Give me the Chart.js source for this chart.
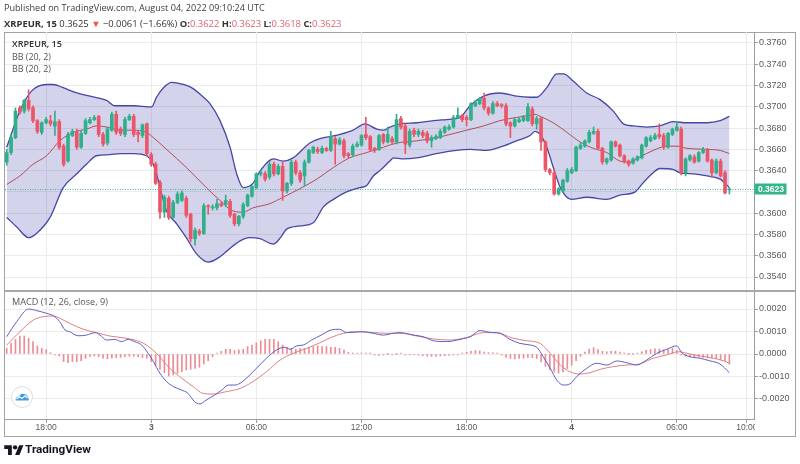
<!DOCTYPE html>
<html><head><meta charset="utf-8">
<script src="https://cdn.jsdelivr.net/npm/chart.js@4.4.0/dist/chart.umd.min.js"></script>
<style>
html,body{margin:0;padding:0;background:#fff;width:800px;height:464px;overflow:hidden;}
#wrap{position:relative;width:800px;height:464px;font-family:"Open Sans","Noto Sans",sans-serif;}
canvas{position:absolute;left:0;top:0;}
.t{position:absolute;white-space:nowrap;line-height:1.2;transform:translateY(-50%);z-index:5;}
.v{color:#e0626f;}
b{font-weight:700;}
#frame{position:absolute;left:4px;top:32px;width:792px;height:405px;box-sizing:border-box;border:1px solid #a3a3a3;}
#sep{position:absolute;left:4px;top:290px;width:792px;height:2px;background:#a8a8a8;z-index:4;}
</style></head><body>
<div id="wrap">
  <div id="frame"></div>
  <canvas id="cp" width="800" height="464"></canvas>
  <canvas id="cm" width="800" height="464"></canvas>
  <div id="sep"></div>
  <div class="t" data-w="261" style="left:4px;top:8px;font-size:11px;color:#3c3c3c">Published on TradingView.com, August 04, 2022 09:10:24 UTC</div>
  <div class="t" data-w="338" style="left:4px;top:24px;font-size:11px;color:#333"><b>XRPEUR, 15</b> 0.3625 <span style="color:#ef5350">▼</span> −0.0061 (−1.66%) <b>O:</b><span class="v">0.3622</span> <b>H:</b><span class="v">0.3623</span> <b>L:</b><span class="v">0.3618</span> <b>C:</b><span class="v">0.3623</span></div>
  <div class="t" data-w="50" style="left:12px;top:44px;font-size:10px;color:#333;font-weight:600">XRPEUR, 15</div>
  <div class="t" data-w="39" style="left:12px;top:57px;font-size:10px;color:#555">BB (20, 2)</div>
  <div class="t" data-w="39" style="left:12px;top:69px;font-size:10px;color:#555">BB (20, 2)</div>
  <div class="t" data-w="96" style="left:12px;top:302px;font-size:10px;color:#555">MACD (12, 26, close, 9)</div>
  <svg style="position:absolute;left:10px;top:385px;z-index:5" width="24" height="24" viewBox="0 0 24 24">
    <circle cx="12" cy="12" r="10.5" fill="#fff" stroke="#dcdcdc" stroke-width="1"/>
    <path d="M5.5 15.5 Q5.5 11.5 9 11.5 Q10.5 8 14 9 Q17.5 9.5 18 12.5 Q19.5 13.5 18.5 15.5 Z" fill="#3d9be0"/>
    <polyline points="6.5,14 9.5,11.8 12,13.6 15,10.8 17.5,13" fill="none" stroke="#fff" stroke-width="1.2"/>
  </svg>
  <svg style="position:absolute;left:4px;top:443px;z-index:5" width="20" height="13" viewBox="0 0 36 24">
    <g fill="#131722"><path d="M14 22H7V11H0V4h14v18zM28 22h-8l7.5-18h8L28 22z"/><circle cx="20" cy="8" r="4"/></g>
  </svg>
  <div class="t" data-w="66" style="left:25px;top:449px;font-size:13px;color:#131722;font-weight:700;font-family:Roboto,'Open Sans',sans-serif">TradingView</div>
</div>
<script>
// ---------- data ----------
const opens = [0.3648,0.3657,0.3671,0.3699,0.3696,0.3706,0.3699,0.3687,0.3676,0.3685,0.3687,0.3682,0.3686,0.3663,0.3649,0.3673,0.3677,0.3662,0.3675,0.3685,
0.3688,0.3691,0.3674,0.3666,0.3678,0.3693,0.3679,0.3674,0.3688,0.3691,0.3676,0.3673,0.3684,0.3655,0.3646,0.3629,0.3601,0.3614,0.3596,0.3610,
0.3612,0.3614,0.3599,0.3576,0.3583,0.3581,0.3607,0.3605,0.3605,0.3609,0.3608,0.3611,0.3599,0.3590,0.3597,0.3607,0.3616,0.3624,0.3637,0.3637,
0.3634,0.3646,0.3637,0.3644,0.3621,0.3628,0.3648,0.3638,0.3635,0.3648,0.3657,0.3660,0.3657,0.3661,0.3659,0.3670,0.3665,0.3668,0.3656,0.3655,
0.3663,0.3664,0.3674,0.3672,0.3661,0.3660,0.3674,0.3667,0.3670,0.3667,0.3689,0.3682,0.3664,0.3678,0.3674,0.3676,0.3675,0.3668,0.3670,0.3671,
0.3676,0.3679,0.3681,0.3690,0.3692,0.3690,0.3688,0.3701,0.3703,0.3708,0.3699,0.3694,0.3703,0.3702,0.3701,0.3685,0.3682,0.3686,0.3687,0.3687,
0.3698,0.3684,0.3689,0.3667,0.3641,0.3638,0.3618,0.3621,0.3630,0.3638,0.3640,0.3661,0.3663,0.3667,0.3675,0.3677,0.3661,0.3648,0.3650,0.3667,
0.3664,0.3654,0.3649,0.3647,0.3650,0.3652,0.3663,0.3668,0.3670,0.3674,0.3673,0.3662,0.3674,0.3678,0.3679,0.3638,0.3650,0.3653,0.3649,0.3657,
0.3659,0.3650,0.3638,0.3649,0.3638,0.3622];
const highs = [0.3660,0.3674,0.3699,0.3701,0.3707,0.3716,0.3701,0.3688,0.3686,0.3690,0.3692,0.3696,0.3688,0.3665,0.3676,0.3679,0.3679,0.3677,0.3689,0.3690,
0.3692,0.3692,0.3676,0.3681,0.3695,0.3696,0.3681,0.3690,0.3693,0.3693,0.3677,0.3684,0.3685,0.3657,0.3648,0.3631,0.3617,0.3616,0.3612,0.3620,
0.3621,0.3616,0.3600,0.3586,0.3585,0.3609,0.3608,0.3608,0.3613,0.3611,0.3617,0.3613,0.3600,0.3598,0.3610,0.3618,0.3626,0.3638,0.3640,0.3639,
0.3648,0.3648,0.3646,0.3648,0.3629,0.3650,0.3650,0.3640,0.3650,0.3660,0.3663,0.3662,0.3663,0.3662,0.3677,0.3672,0.3671,0.3670,0.3657,0.3665,
0.3667,0.3674,0.3690,0.3673,0.3662,0.3674,0.3675,0.3681,0.3672,0.3693,0.3691,0.3684,0.3679,0.3680,0.3679,0.3678,0.3677,0.3673,0.3674,0.3679,
0.3682,0.3683,0.3692,0.3699,0.3693,0.3692,0.3704,0.3706,0.3709,0.3713,0.3700,0.3705,0.3705,0.3703,0.3703,0.3686,0.3690,0.3690,0.3692,0.3703,
0.3700,0.3691,0.3690,0.3668,0.3642,0.3640,0.3624,0.3632,0.3642,0.3643,0.3663,0.3666,0.3669,0.3678,0.3681,0.3679,0.3662,0.3652,0.3668,0.3668,
0.3665,0.3655,0.3650,0.3652,0.3654,0.3665,0.3672,0.3673,0.3675,0.3684,0.3675,0.3676,0.3680,0.3686,0.3681,0.3652,0.3655,0.3655,0.3658,0.3662,
0.3661,0.3651,0.3651,0.3651,0.3640,0.3623];
const lows = [0.3645,0.3655,0.3670,0.3693,0.3694,0.3696,0.3685,0.3675,0.3674,0.3684,0.3682,0.3673,0.3660,0.3644,0.3648,0.3672,0.3660,0.3661,0.3674,0.3684,
0.3687,0.3672,0.3663,0.3664,0.3677,0.3674,0.3673,0.3672,0.3687,0.3672,0.3667,0.3671,0.3654,0.3644,0.3627,0.3595,0.3596,0.3594,0.3595,0.3609,
0.3611,0.3596,0.3573,0.3570,0.3579,0.3580,0.3599,0.3603,0.3603,0.3606,0.3606,0.3596,0.3588,0.3588,0.3595,0.3606,0.3615,0.3623,0.3635,0.3630,
0.3632,0.3635,0.3636,0.3612,0.3619,0.3626,0.3636,0.3629,0.3626,0.3647,0.3656,0.3656,0.3656,0.3658,0.3658,0.3646,0.3664,0.3652,0.3652,0.3653,
0.3662,0.3663,0.3669,0.3658,0.3657,0.3659,0.3665,0.3666,0.3665,0.3665,0.3679,0.3656,0.3662,0.3672,0.3672,0.3671,0.3666,0.3662,0.3669,0.3670,
0.3675,0.3678,0.3680,0.3689,0.3686,0.3682,0.3687,0.3700,0.3702,0.3697,0.3692,0.3693,0.3700,0.3699,0.3682,0.3671,0.3681,0.3685,0.3686,0.3686,
0.3682,0.3679,0.3659,0.3639,0.3636,0.3617,0.3617,0.3620,0.3629,0.3637,0.3639,0.3660,0.3662,0.3666,0.3674,0.3660,0.3646,0.3646,0.3649,0.3662,
0.3653,0.3647,0.3644,0.3646,0.3649,0.3651,0.3662,0.3667,0.3669,0.3670,0.3660,0.3661,0.3673,0.3677,0.3636,0.3635,0.3649,0.3647,0.3648,0.3656,
0.3648,0.3634,0.3637,0.3634,0.3618,0.3618];
const closes = [0.3657,0.3671,0.3696,0.3695,0.3706,0.3698,0.3687,0.3677,0.3685,0.3688,0.3684,0.3686,0.3662,0.3646,0.3674,0.3677,0.3662,0.3675,0.3687,0.3688,
0.3690,0.3674,0.3665,0.3679,0.3693,0.3676,0.3675,0.3688,0.3691,0.3674,0.3674,0.3683,0.3656,0.3646,0.3628,0.3601,0.3615,0.3596,0.3610,0.3618,
0.3619,0.3598,0.3576,0.3584,0.3581,0.3607,0.3606,0.3606,0.3609,0.3607,0.3612,0.3598,0.3590,0.3597,0.3608,0.3617,0.3625,0.3637,0.3638,0.3632,
0.3646,0.3637,0.3644,0.3621,0.3628,0.3648,0.3638,0.3631,0.3648,0.3659,0.3662,0.3658,0.3661,0.3659,0.3672,0.3665,0.3669,0.3654,0.3654,0.3663,
0.3665,0.3673,0.3671,0.3660,0.3659,0.3673,0.3667,0.3674,0.3667,0.3688,0.3681,0.3665,0.3677,0.3674,0.3677,0.3673,0.3668,0.3671,0.3672,0.3677,
0.3681,0.3681,0.3690,0.3692,0.3688,0.3688,0.3703,0.3704,0.3708,0.3699,0.3694,0.3703,0.3701,0.3701,0.3684,0.3682,0.3688,0.3688,0.3690,0.3700,
0.3684,0.3689,0.3667,0.3641,0.3638,0.3618,0.3623,0.3631,0.3640,0.3641,0.3662,0.3664,0.3668,0.3676,0.3677,0.3661,0.3648,0.3651,0.3667,0.3663,
0.3654,0.3649,0.3646,0.3651,0.3653,0.3664,0.3671,0.3671,0.3673,0.3672,0.3662,0.3675,0.3679,0.3681,0.3638,0.3651,0.3654,0.3648,0.3657,0.3660,
0.3649,0.3638,0.3649,0.3635,0.3619,0.3623];

// Bollinger bands, read as [bar index, price]
const bbUpper = [[0,0.3662],[3,0.3696],[5.7,0.3715],[9.1,0.3721],[10.6,0.3721],[12.9,0.3718],[16,0.3713],[19,0.3710],[22.8,0.3706],[24.7,0.3701],[28.9,0.3701],[33.1,0.3700],[34.2,0.3709],[35.8,0.3718],[37.7,0.3723],[40.3,0.3721],[42.2,0.3718],[44.1,0.3712],[46.4,0.3703],[48.7,0.3687],[51,0.3662],[52.5,0.3637],[54,0.3624],[56.2,0.3628],[57.9,0.3640],[60.9,0.3651],[63.1,0.3649],[65.4,0.3652],[69.2,0.3666],[71.5,0.3670],[73.8,0.3672],[76.1,0.3674],[79.1,0.3678],[81.8,0.3684],[84.5,0.3679],[86,0.3678],[87.5,0.3681],[89.8,0.3684],[93.6,0.3685],[97.4,0.3687],[100.4,0.3688],[103.5,0.3690],[105.8,0.3701],[108.9,0.3710],[112.6,0.3713],[116.4,0.3710],[119.5,0.3709],[121,0.3709],[123.3,0.3718],[125.6,0.3731],[127.1,0.3731],[129.4,0.3724],[132.4,0.3713],[135.4,0.3707],[138.5,0.3696],[140.8,0.3684],[143.1,0.3682],[146.1,0.3681],[149.1,0.3682],[152.2,0.3686],[155.3,0.3685],[159.9,0.3685],[162.9,0.3687],[165,0.3691]];
const bbLower = [[0,0.3596],[2.3,0.3587],[5,0.3577],[6.8,0.3581],[9.9,0.3596],[12.9,0.3624],[16,0.3637],[18.2,0.3646],[20.5,0.3654],[23.5,0.3655],[25.8,0.3656],[28.9,0.3656],[31.9,0.3654],[33.1,0.3649],[34.2,0.3637],[35,0.3624],[36.5,0.3602],[38.8,0.3590],[41,0.3577],[43.3,0.3562],[46,0.3554],[48.7,0.3559],[51,0.3567],[53.3,0.3574],[55.5,0.3577],[57.8,0.3576],[60.9,0.3571],[62.5,0.3577],[63.9,0.3585],[66.9,0.3588],[70,0.3591],[72.3,0.3606],[74.6,0.3613],[77.6,0.3620],[80.6,0.3624],[82.2,0.3626],[83.7,0.3635],[85.2,0.3640],[87.5,0.3649],[88.3,0.3652],[90.6,0.3651],[93.6,0.3652],[98.1,0.3656],[102.7,0.3659],[105.8,0.3660],[109.6,0.3659],[113.3,0.3663],[116.4,0.3668],[119.5,0.3673],[120.6,0.3677],[121.8,0.3674],[123.3,0.3662],[124.8,0.3643],[126.4,0.3624],[128.9,0.3613],[132.4,0.3615],[137,0.3613],[140,0.3617],[143.5,0.3620],[145.4,0.3629],[147.6,0.3638],[149.1,0.3642],[152.2,0.3641],[153.7,0.3638],[156.8,0.3637],[159.9,0.3635],[162.9,0.3632],[165,0.3624]];
const bbBasis = [[0,0.3627],[3,0.3635],[6,0.3646],[9.1,0.3654],[12.1,0.3668],[15.2,0.3676],[18.2,0.3679],[20.5,0.3682],[22.8,0.3681],[25.8,0.3678],[28.9,0.3678],[31.9,0.3676],[33.5,0.3671],[36.5,0.3660],[41,0.3643],[45.6,0.3624],[48.7,0.3612],[51.7,0.3602],[54,0.3601],[56.2,0.3605],[60.1,0.3609],[63.1,0.3615],[66.9,0.3623],[70.8,0.3632],[74.6,0.3643],[78.3,0.3652],[82.2,0.3657],[86,0.3662],[89.1,0.3666],[93.6,0.3668],[98.1,0.3671],[101.2,0.3674],[105,0.3678],[108.9,0.3682],[112.6,0.3687],[116.4,0.3690],[119.5,0.3692],[120.6,0.3693],[121.8,0.3691],[124.8,0.3685],[127.9,0.3676],[130.9,0.3667],[133.9,0.3661],[137,0.3657],[140,0.3649],[142.3,0.3648],[144.6,0.3653],[147.6,0.3659],[150.7,0.3663],[153,0.3663],[155.3,0.3661],[159.9,0.3660],[162.9,0.3659],[165,0.3656]];

// MACD (12, 26, close, 9), read as [bar index, value]
const macdLine = [[0,0.00077],[2.3,0.00144],[5,0.002],[6.8,0.00193],[9.1,0.00181],[11,0.00166],[12.1,0.00144],[13.3,0.00107],[14.4,0.00099],[16.3,0.00081],[18.2,0.00084],[20.2,0.00095],[21.3,0.00084],[22.8,0.00062],[24.7,0.00065],[26.2,0.00055],[27.7,0.00065],[29.2,0.00055],[30.8,0.0004],[32.3,0.00003],[33.5,-0.00034],[35,-0.00086],[36.5,-0.00123],[38.1,-0.00145],[39.9,-0.0016],[41.4,-0.00175],[42.9,-0.00212],[44.1,-0.00222],[45.6,-0.00204],[47.5,-0.00182],[49.1,-0.0016],[50.6,-0.00138],[52.1,-0.00138],[53.3,-0.0013],[55.1,-0.00101],[57,-0.00064],[59.3,-0.00019],[61.6,0.00018],[63.5,0.0003],[64.7,0.00021],[66.2,0.00036],[67.7,0.0004],[69.6,0.00062],[71.8,0.00084],[74.1,0.00107],[76,0.0011],[77.6,0.00095],[81,0.00099],[83.7,0.00092],[86,0.00084],[88.2,0.00092],[89.8,0.00095],[92.9,0.00084],[95.1,0.00077],[97.4,0.00059],[100.4,0.00055],[103.5,0.00065],[105.8,0.00077],[108.1,0.00104],[110.4,0.00096],[112.6,0.00092],[114.9,0.00065],[117.2,0.00047],[119.5,0.0004],[121,0.0003],[122.5,-0.00012],[124.1,-0.00064],[125.6,-0.00116],[127.1,-0.00138],[128.6,-0.00133],[130.1,-0.00101],[132.4,-0.00064],[134.7,-0.00041],[137,-0.00049],[139.3,-0.00031],[141.6,-0.00039],[143.8,-0.00049],[146.1,-0.00027],[148.4,0.00003],[150.7,0.00021],[153,0.00036],[154.1,0.00006],[156,-0.00012],[158.3,-0.00019],[160.5,-0.0003],[162.8,-0.00044],[165,-0.00083]];
const signalLine = [[0,0.0004],[3,0.00099],[6.1,0.00151],[8.3,0.00166],[10.6,0.00169],[12.1,0.00159],[14.4,0.00136],[17.5,0.0011],[20.5,0.00095],[23.5,0.0008],[27.3,0.0007],[30.4,0.00055],[31.9,0.0004],[34.2,0.00003],[36.5,-0.00049],[39.5,-0.00101],[42.6,-0.00145],[44.8,-0.00175],[47.1,-0.00178],[50.2,-0.00167],[53.3,-0.00153],[56.2,-0.00123],[59.3,-0.00079],[62.4,-0.00027],[65.4,0.00003],[68.5,0.00025],[71.5,0.0005],[74.5,0.00077],[77.6,0.00095],[80.6,0.00099],[83.7,0.00095],[86.8,0.00092],[89.8,0.00092],[94.4,0.00077],[97.4,0.00067],[101.2,0.00062],[105,0.00073],[108.9,0.00095],[111.8,0.00095],[115.6,0.0007],[118.7,0.00059],[121.8,0.00047],[124.1,0.00003],[126.4,-0.00049],[128.6,-0.00079],[130.9,-0.00089],[133.2,-0.00083],[135.5,-0.00068],[138.5,-0.00056],[141.6,-0.00049],[144.5,-0.00044],[147.6,-0.00019],[150.7,-0.00004],[153.4,0.0001],[156,0],[158.3,-0.00009],[161.4,-0.00019],[163.6,-0.0003],[165,-0.00041]];
const histogram = [0.00025,0.00047,0.00065,0.0008,0.0008,0.0007,0.00055,0.00036,0.00025,0.00018,
0.00006,-0.00001,-0.00009,-0.00034,-0.00039,-0.00034,-0.00034,-0.0003,-0.00019,-0.00012,
-0.00009,-0.00012,-0.00019,-0.00021,-0.00018,-0.00016,-0.00015,-0.00012,-0.0001,-0.0001,
-0.00012,-0.00016,-0.00019,-0.00034,-0.00049,-0.00068,-0.00083,-0.00098,-0.00093,-0.00086,
-0.00079,-0.00071,-0.00068,-0.00064,-0.00059,-0.00044,-0.0003,-0.00012,0.00003,0.00012,
0.00021,0.00021,0.00015,0.00018,0.00021,0.00033,0.0004,0.0005,0.00059,0.00065,
0.00065,0.00065,0.00055,0.0004,0.0003,0.00025,0.00022,0.00025,0.00025,0.0003,
0.00033,0.00036,0.00033,0.00033,0.0003,0.0003,0.00025,0.00018,0.00007,0.00003,
0.00003,0.00003,0.00003,0.00003,-0.00001,-0.00006,-0.00001,0,-0.00003,0,
0.00003,
-0.00001,-0.00002,-0.00003,-0.00005,-0.00008,-0.0001,-0.00011,-0.00011,-0.00009,-0.00008,
-0.00006,-0.00004,-0.00002,0.00001,0.00008,0.00012,0.00016,0.00014,0.00009,0.00006,
0.00005,0.00003,-0.00005,-0.00015,-0.0002,-0.00022,-0.0002,-0.00018,-0.00015,-0.00016,
-0.0002,-0.00035,-0.00055,-0.0007,-0.0008,-0.00085,-0.0008,-0.00065,-0.0005,-0.0003,
-0.0001,0.00008,0.00022,0.00028,0.0002,0.00012,0.0001,0.00012,0.00013,0.00008,
0.00002,0,0,0.00003,0.0001,0.00016,0.0002,0.00023,0.00022,0.00018,
0.0002,0.00025,0.00015,-0.00005,-0.0001,-0.00012,-0.00013,-0.00014,-0.00015,-0.00016,
-0.00018,-0.0002,-0.00025,-0.0003,-0.00045];

// axis ticks
const timeTickIndex = [9,33,57,81,105,129,153,169];
const timeTickLabels = ['18:00','3','06:00','12:00','18:00','4','06:00','10:00'];
const dayLabels = ['3','4'];
const priceTicks = [0.3540,0.3560,0.3580,0.3600,0.3620,0.3640,0.3660,0.3680,0.3700,0.3720,0.3740,0.3760];
const macdTicks = [-0.002,-0.001,0,0.001,0.002];

// ---------- styling ----------
const UP = '#2fb08a', DOWN = '#ec5568';
const GRID = '#ececec', AXIS = '#9c9c9c', LABEL = '#5a5a5a';
const X_MIN = -0.39, X_MAX = 170.62;
const tickFont = {family:"'Liberation Sans', Arial, sans-serif", size:9};

const candleColors = closes.map((c,i)=> c >= opens[i] ? UP : DOWN);
const bodies = opens.map((o,i)=>({x:i, y:[o, closes[i]]}));
const wicks = lows.map((l,i)=>({x:i, y:[l, highs[i]]}));
const pts = arr => arr.map(p=>({x:p[0], y:p[1]}));

const lastPrice = {
  id:'lastPrice',
  beforeDatasetsDraw(chart){
    const {ctx, chartArea:a, scales:{y}} = chart;
    const py = Math.round(y.getPixelForValue(closes[closes.length-1])) + 0.5;
    ctx.save();
    ctx.strokeStyle = '#43b596'; ctx.lineWidth = 1; ctx.setLineDash([1,1.5]);
    ctx.beginPath(); ctx.moveTo(a.left, py); ctx.lineTo(a.right, py); ctx.stroke();
    ctx.restore();
  },
  afterDraw(chart){
    const {ctx, chartArea:a, scales:{y}} = chart;
    const v = closes[closes.length-1];
    const py = Math.round(y.getPixelForValue(v));
    ctx.save();
    ctx.fillStyle = '#33b58c';
    ctx.fillRect(a.right + 0.5, py - 5.5, 32, 11);
    ctx.fillStyle = '#fff';
    ctx.font = "bold 8.5px 'Liberation Sans', Arial, sans-serif";
    ctx.textBaseline = 'middle'; ctx.textAlign = 'left';
    ctx.fillText(v.toFixed(4), a.right + 4, py + 0.5);
    ctx.restore();
  }
};
const clipAxis = {
  id:'clipAxis',
  afterDraw(chart){
    const {ctx, chartArea:a} = chart;
    ctx.save(); ctx.fillStyle = '#fff';
    ctx.fillRect(a.right + 1, a.bottom + 2, 40, 15);
    ctx.restore();
  }
};

const common = {
  responsive:false, animation:false, devicePixelRatio:1,
  plugins:{legend:{display:false}, tooltip:{enabled:false}, filler:{drawTime:'beforeDatasetsDraw'}}
};

new Chart(document.getElementById('cp'), {
  type:'bar',
  data:{datasets:[
    {type:'bar', data:bodies, backgroundColor:candleColors, barThickness:3, grouped:false, minBarLength:1, order:0},
    {type:'bar', data:wicks, backgroundColor:candleColors, barThickness:1, grouped:false, order:1},
    {type:'line', data:pts(bbBasis), borderColor:'#b24c57', borderWidth:1, pointRadius:0, cubicInterpolationMode:'monotone', order:2},
    {type:'line', data:pts(bbUpper), borderColor:'#4646a6', borderWidth:1.3, pointRadius:0, cubicInterpolationMode:'monotone', fill:'+1', backgroundColor:'rgba(70,70,172,0.24)', order:3},
    {type:'line', data:pts(bbLower), borderColor:'#4646a6', borderWidth:1.3, pointRadius:0, cubicInterpolationMode:'monotone', order:4}
  ]},
  options:Object.assign({}, common, {
    layout:{padding:{left:5, top:32, right:0, bottom:173}},
    scales:{
      x:{type:'linear', min:X_MIN, max:X_MAX, offset:false, bounds:'data',
         grid:{offset:false, color:GRID, drawTicks:false}, border:{display:false},
         ticks:{display:false},
         afterBuildTicks:s=>{ s.ticks = timeTickIndex.map(v=>({value:v})); },
         afterFit:s=>{ s.height = 0; }},
      y:{position:'right', min:0.352684, max:0.377034, bounds:'data',
         grid:{color:GRID, tickColor:AXIS, tickLength:4}, border:{color:AXIS},
         ticks:{padding:1, font:tickFont, color:LABEL, autoSkip:false, callback:v=>v.toFixed(4)},
         afterBuildTicks:s=>{ s.ticks = priceTicks.map(v=>({value:v})); },
         afterFit:s=>{ s.width = 46; }}
    }
  }),
  plugins:[lastPrice]
});

new Chart(document.getElementById('cm'), {
  type:'bar',
  data:{datasets:[
    {type:'line', data:pts(macdLine), borderColor:'#5c5ec6', borderWidth:1, pointRadius:0, cubicInterpolationMode:'monotone', order:0},
    {type:'line', data:pts(signalLine), borderColor:'#e07f80', borderWidth:1, pointRadius:0, cubicInterpolationMode:'monotone', order:1},
    {type:'bar', data:histogram.map((v,i)=>({x:i, y:v})), backgroundColor:'#ec8d95', barThickness:1, grouped:false, minBarLength:1, order:2}
  ]},
  options:Object.assign({}, common, {
    layout:{padding:{left:5, top:292, right:0, bottom:28}},
    scales:{
      x:{type:'linear', min:X_MIN, max:X_MAX, offset:false, bounds:'data',
         grid:{offset:false, color:GRID, tickColor:AXIS, tickLength:4}, border:{color:AXIS},
         ticks:{padding:0, autoSkip:false, maxRotation:0, color:LABEL,
                font:c=>({family:tickFont.family, size:8.5, weight: (c.tick && dayLabels.includes(timeTickLabels[timeTickIndex.indexOf(c.tick.value)])) ? 'bold' : 'normal'}),
                callback:(v,i)=>timeTickLabels[i]},
         afterBuildTicks:s=>{ s.ticks = timeTickIndex.map(v=>({value:v})); },
         afterFit:s=>{ s.height = 17; }},
      y:{position:'right', min:-0.002889, max:0.002756, bounds:'data',
         grid:{color:GRID, tickColor:AXIS, tickLength:4}, border:{color:AXIS},
         ticks:{padding:1, font:tickFont, color:LABEL, autoSkip:false, callback:v=>v.toFixed(4)},
         afterBuildTicks:s=>{ s.ticks = macdTicks.map(v=>({value:v})); },
         afterFit:s=>{ s.width = 46; }}
    }
  }),
  plugins:[clipAxis]
});

// fit header / legend text widths to the reference
function fitTexts(){
  document.querySelectorAll('.t[data-w]').forEach(el=>{
    el.style.fontSize = '';
    const w = el.getBoundingClientRect().width;
    const fs = parseFloat(getComputedStyle(el).fontSize);
    const target = parseFloat(el.dataset.w);
    if (w > 0) el.style.fontSize = (fs * target / w).toFixed(2) + 'px';
  });
}
fitTexts();
if (document.fonts && document.fonts.ready) document.fonts.ready.then(fitTexts);
</script>
</body></html>
